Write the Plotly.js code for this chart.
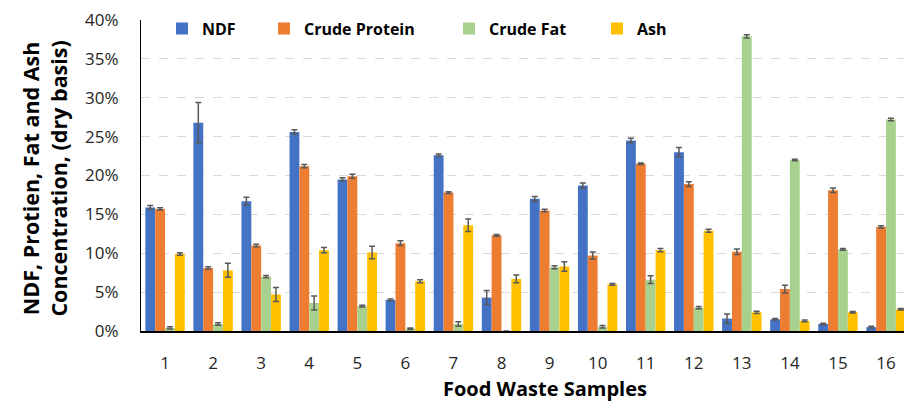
<!DOCTYPE html>
<html><head><meta charset="utf-8">
<script src="https://cdn.plot.ly/plotly-3.0.1.min.js"></script>
<style>html,body{margin:0;padding:0;background:#fff}#chart{width:904px;height:403px}</style>
</head><body><div id="chart"></div>
<script>
const samples = [1,2,3,4,5,6,7,8,9,10,11,12,13,14,15,16];
const seriesNames = ["NDF","Crude Protein","Crude Fat","Ash"];
const ndf     = [15.9,26.8,16.7,25.6,19.5,4.0,22.6,4.3,17.0,18.7,24.5,23.0,1.6,1.5,0.9,0.5];
const ndfErr  = [0.25,2.6,0.5,0.3,0.2,0.1,0.15,0.9,0.3,0.35,0.3,0.6,0.6,0.1,0.1,0.1];
const protein = [15.7,8.1,11.0,21.2,19.9,11.3,17.8,12.3,15.5,9.7,21.5,18.9,10.2,5.4,18.1,13.4];
const proteinErr = [0.15,0.15,0.15,0.2,0.25,0.3,0.1,0.1,0.15,0.45,0.1,0.3,0.35,0.5,0.3,0.15];
const fat     = [0.4,0.9,7.0,3.6,3.2,0.3,0.9,0.0,8.2,0.55,6.6,3.0,37.9,22.0,10.5,27.2];
const fatErr  = [0.15,0.15,0.15,0.9,0.1,0.1,0.3,0.0,0.2,0.15,0.5,0.15,0.2,0.1,0.1,0.15];
const ash     = [9.9,7.8,4.7,10.4,10.1,6.4,13.6,6.7,8.3,6.0,10.4,12.9,2.4,1.3,2.4,2.8];
const ashErr  = [0.15,0.9,0.9,0.35,0.8,0.2,0.8,0.5,0.6,0.1,0.2,0.2,0.15,0.1,0.1,0.1];
const yTicks = [0,5,10,15,20,25,30,35,40];
const yTickText = ["0%","5%","10%","15%","20%","25%","30%","35%","40%"];

const colors = ["#4472C4","#ED7D31","#A9D18E","#FFC000"];
const vals = [ndf, protein, fat, ash];
const errs = [ndfErr, proteinErr, fatErr, ashErr];
const legendIds = ["legend","legend2","legend3","legend4"];
const FONT = "'Open Sans', sans-serif";

const traces = seriesNames.map((n,i)=>({
  type:"bar", name:n, x:samples, y:vals[i],
  marker:{color:colors[i], line:{width:0}},
  error_y:{type:"data", array:errs[i], visible:true, color:"#595959", thickness:1.5, width:3},
  legend: legendIds[i]
}));

const L = 141, W = 763;
function px(x){ return (x - L)/W; }
const legendTextStarts = [202, 304, 489, 637];
const legendCommon = (xp)=>({x:xp, xanchor:"left", y:0.972, yanchor:"middle", orientation:"h",
  font:{family:FONT, size:16, color:"#000", weight:"bold"}, bgcolor:"rgba(0,0,0,0)", borderwidth:0});

const layout = {
  width:904, height:403,
  margin:{l:141, r:0, t:20, b:72},
  paper_bgcolor:"#fff", plot_bgcolor:"#fff",
  barmode:"group", bargap:0.18, bargroupgap:0,
  font:{family:FONT, color:"#404040"},
  xaxis:{type:"linear", range:[0.5,16.374], tickvals:samples, ticktext:samples.map(String),
    showgrid:false, zeroline:false, showline:true, linecolor:"#000", linewidth:1.5,
    ticks:"", ticklabelstandoff:16, tickfont:{family:FONT, size:17, color:"#262626"}},
  yaxis:{range:[0,40], tickvals:yTicks, ticktext:yTickText, showgrid:true,
    gridcolor:"#d9d9d9", griddash:"dash", gridwidth:1, zeroline:false,
    showline:true, linecolor:"#000", linewidth:1, ticks:"", ticklabelstandoff:18,
    tickfont:{family:FONT, size:17, color:"#262626"}},
  legend: legendCommon(px(legendTextStarts[0]-40)),
  legend2: legendCommon(px(legendTextStarts[1]-40)),
  legend3: legendCommon(px(legendTextStarts[2]-40)),
  legend4: legendCommon(px(legendTextStarts[3]-40)),
  annotations:[
    {text:"<b>NDF, Protien, Fat and Ash<br>Concentration, (dry basis)</b>", textangle:-90,
     xref:"paper", yref:"paper", x:px(45), y:0.49, xanchor:"center", yanchor:"middle",
     showarrow:false, font:{family:FONT, size:21.5, color:"#000"}},
    {text:"<b>Food Waste Samples</b>", xref:"paper", yref:"paper", x:px(545), y:-57/311,
     xanchor:"center", yanchor:"middle", showarrow:false, font:{family:FONT, size:20, color:"#000"}}
  ],
  showlegend:true
};
Plotly.newPlot("chart", traces, layout, {staticPlot:true, displayModeBar:false});
</script></body></html>
